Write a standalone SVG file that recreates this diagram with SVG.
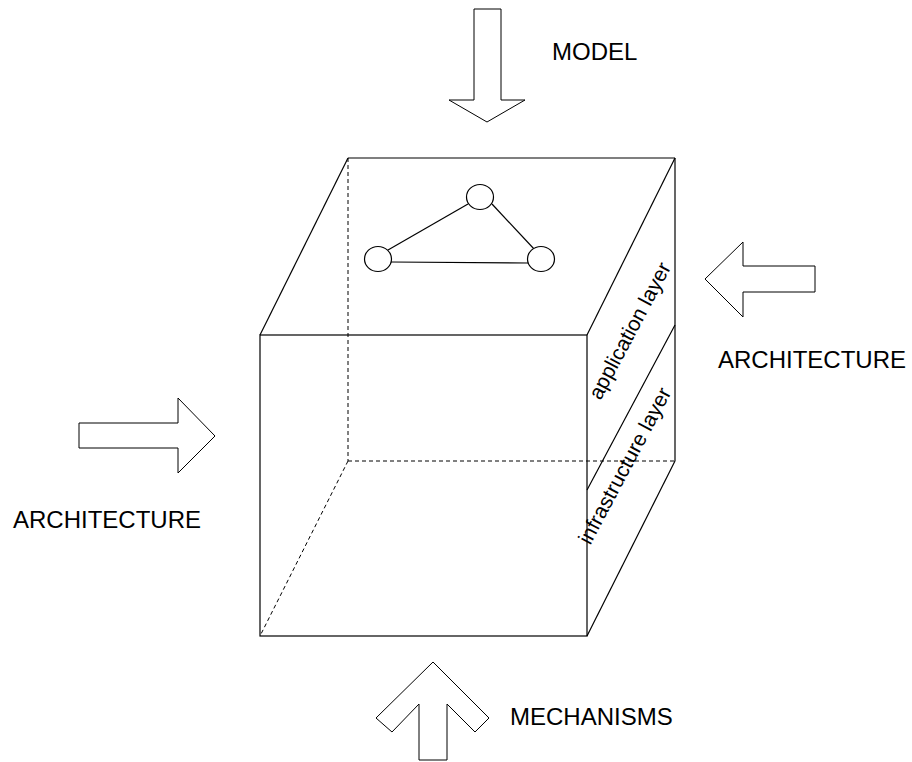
<svg xmlns="http://www.w3.org/2000/svg" width="912" height="762" viewBox="0 0 912 762">
<style>
.ln{stroke:#000;stroke-width:1.2;fill:none}
.ds{stroke:#000;stroke-width:1;fill:none;stroke-dasharray:4,3}
.ar{stroke:#000;stroke-width:1;fill:#fff;stroke-linejoin:miter}
.nd{stroke:#000;stroke-width:1.2;fill:#fff}
.lb{font-family:"Liberation Sans",Arial,sans-serif;font-size:24px;fill:#000}
.ly{font-family:"Liberation Sans",Arial,sans-serif;font-size:21px;fill:#000}
</style>
<rect width="912" height="762" fill="#fff"/>
<g id="cube">
<line class="ds" x1="348" y1="158" x2="348" y2="461"/>
<line class="ds" x1="348" y1="461" x2="675" y2="461"/>
<line class="ds" x1="348" y1="461" x2="260" y2="636"/>
<line class="ln" x1="348" y1="158" x2="675" y2="158"/>
<line class="ln" x1="675" y1="158" x2="675" y2="461"/>
<line class="ln" x1="260" y1="335" x2="348" y2="158"/>
<line class="ln" x1="587" y1="335" x2="675" y2="158"/>
<line class="ln" x1="675" y1="461" x2="587" y2="636"/>
<line class="ln" x1="587" y1="490" x2="675" y2="325"/>
<rect class="ln" x="260" y="335" width="327" height="301"/>
<text class="ly" transform="translate(636,334) rotate(-62)" text-anchor="middle">application layer</text>
<text class="ly" transform="translate(631,469) rotate(-62)" text-anchor="middle">infrastructure layer</text>
</g>
<g id="connectors">
<line class="ln" x1="388" y1="250" x2="468" y2="204"/>
<line class="ln" x1="492" y1="204" x2="535" y2="250"/>
<line class="ln" x1="391" y1="262" x2="528" y2="263"/>
</g>
<g id="node-top"><ellipse class="nd" cx="480" cy="197" rx="13.5" ry="12.5"/></g>
<g id="node-left"><ellipse class="nd" cx="378" cy="259" rx="13.5" ry="12.5"/></g>
<g id="node-right"><ellipse class="nd" cx="541" cy="259" rx="13.5" ry="12.5"/></g>
<g id="model">
<polygon class="ar" points="474,9 501,9 501,100 525,100 487,122 449,100 474,100"/>
<text class="lb" x="552" y="60">MODEL</text>
</g>
<g id="architecture-right">
<polygon class="ar" points="705,279 743,242 743,266 815,266 815,292 743,292 743,317"/>
<text class="lb" x="718" y="368">ARCHITECTURE</text>
</g>
<g id="architecture-left">
<polygon class="ar" points="79,423 178,423 178,398 215,436 178,473 178,448 79,448"/>
<text class="lb" x="13" y="528">ARCHITECTURE</text>
</g>
<g id="mechanisms">
<polygon class="ar" points="433,662 489,718 475,732 447,704 447,760 419,760 419,704 392,732 376,718"/>
<text class="lb" x="510" y="725">MECHANISMS</text>
</g>
</svg>
